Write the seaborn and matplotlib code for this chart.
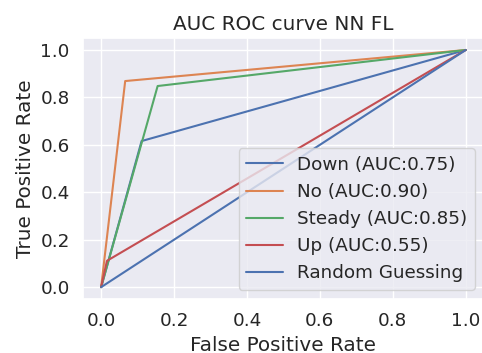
import matplotlib

matplotlib.use("Agg")

import matplotlib.pyplot as plt
import pandas as pd
import seaborn as sns

CLASSES = ["Down", "No", "Steady", "Up"]
AUC_VALUES = [0.75, 0.90, 0.85, 0.55]
FPR = {
    "Down": [0.0, 0.111, 1.0],
    "No": [0.0, 0.066, 1.0],
    "Steady": [0.0, 0.155, 1.0],
    "Up": [0.0, 0.016, 1.0],
}
TPR = {
    "Down": [0.0, 0.616, 1.0],
    "No": [0.0, 0.869, 1.0],
    "Steady": [0.0, 0.848, 1.0],
    "Up": [0.0, 0.111, 1.0],
}
RANDOM_FPR = [0.0, 1.0]
RANDOM_TPR = [0.0, 1.0]


def main() -> None:
    sns.set_theme(style="darkgrid", font_scale=1.2)
    fig = plt.figure(figsize=(4.82, 3.53), dpi=100)
    ax = fig.add_axes([0.172, 0.153, 0.832, 0.739])

    for name, auc in zip(CLASSES, AUC_VALUES):
        df = pd.DataFrame({"fpr": FPR[name], "tpr": TPR[name]})
        sns.lineplot(data=df, x="fpr", y="tpr", ax=ax, sort=False,
                     label=f"{name} (AUC:{auc:.2f})")

    df_rand = pd.DataFrame({"fpr": RANDOM_FPR, "tpr": RANDOM_TPR})
    sns.lineplot(data=df_rand, x="fpr", y="tpr", ax=ax, color="#4c72b0",
                 label="Random Guessing")

    ax.set_title("AUC ROC curve NN FL")
    ax.set_xlabel("False Positive Rate")
    ax.set_ylabel("True Positive Rate")
    ax.legend(loc="lower right")
    fig.savefig("out.png", dpi=100)
    plt.close(fig)


if __name__ == "__main__":
    main()
